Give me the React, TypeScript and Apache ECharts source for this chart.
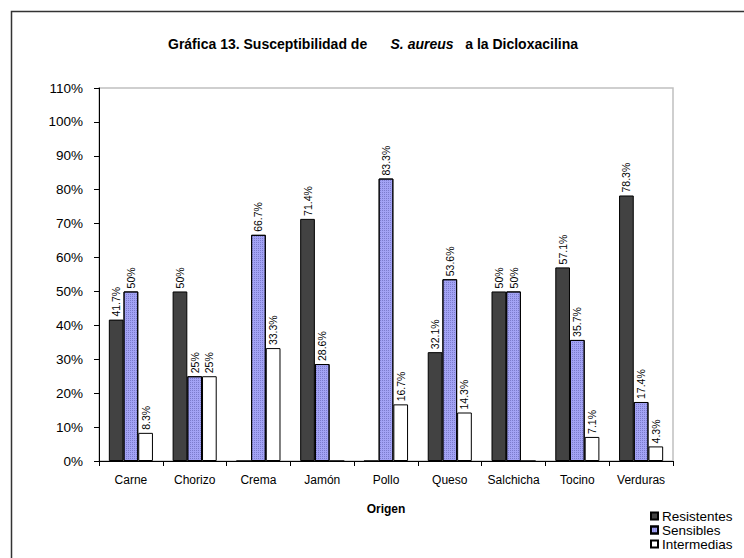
import React, { useEffect, useRef } from "react";
import * as echarts from "echarts";

const categories = ["Carne", "Chorizo", "Crema", "Jamón", "Pollo", "Queso", "Salchicha", "Tocino", "Verduras"];
const resistentes = [41.7, 50, 0, 71.4, 0, 32.1, 50, 57.1, 78.3];
const sensibles = [50, 25, 66.7, 28.6, 83.3, 53.6, 50, 35.7, 17.4];
const intermedias = [8.3, 25, 33.3, 0, 16.7, 14.3, 0, 7.1, 4.3];
const seriesNames = ["Resistentes", "Sensibles", "Intermedias"];

const FONT = "'Liberation Sans', Arial, sans-serif";

export default function App() {
  const ref = useRef<HTMLDivElement>(null);
  useEffect(() => {
    if (!ref.current) return;
    const chart = echarts.init(ref.current, null, { renderer: "svg" });
    const label = {
      show: true,
      position: "top",
      rotate: 90,
      align: "left",
      verticalAlign: "middle",
      distance: 3,
      fontSize: 10.5,
      fontFamily: FONT,
      color: "#000",
      formatter: (p: any) => (p.value === 0 ? "" : `${p.value}%`),
    };
    const ts = { fontSize: 14, fontWeight: "bold", fontFamily: FONT, color: "#000" };
    chart.setOption({
      animation: false,
      backgroundColor: "#fff",
      textStyle: { fontFamily: FONT },
      title: {
        text: "{a|Gráfica 13. Susceptibilidad de}{a|      }{b|S. aureus}{a|   }{a|a la Dicloxacilina}",
        left: 168,
        top: 37,
        padding: 0,
        textStyle: {
          ...ts,
          rich: {
            a: { ...ts },
            b: { ...ts, fontStyle: "italic" },
          },
        },
      },
      legend: {
        orient: "vertical",
        left: 650,
        top: 509,
        padding: 0,
        itemWidth: 7,
        itemHeight: 7,
        itemGap: 0,
        icon: "rect",
        textStyle: { fontSize: 13.5, lineHeight: 13, fontFamily: FONT, color: "#000", padding: [0, 0, 0, -1] },
        data: seriesNames,
      },
      grid: {
        left: 99,
        top: 88,
        width: 574,
        height: 373,
        show: true,
        borderColor: "#c0c0c0",
        borderWidth: 1.5,
        backgroundColor: "transparent",
      },
      xAxis: {
        type: "category",
        data: categories,
        name: "Origen",
        nameLocation: "middle",
        nameGap: 42,
        nameTextStyle: { fontSize: 12, fontWeight: "bold", fontFamily: FONT, color: "#000" },
        axisLine: { lineStyle: { color: "#000", width: 1 } },
        axisTick: { show: true, length: 5, lineStyle: { color: "#000" } },
        axisLabel: { fontSize: 12, margin: 13, color: "#000", fontFamily: FONT, interval: 0 },
      },
      yAxis: {
        type: "value",
        min: 0,
        max: 110,
        interval: 10,
        axisLine: { show: true, lineStyle: { color: "#000", width: 1 } },
        axisTick: { show: true, length: 5, lineStyle: { color: "#000" } },
        axisLabel: { fontSize: 13.5, margin: 16, color: "#000", fontFamily: FONT, formatter: "{value}%" },
        splitLine: { show: false },
      },
      series: [
        {
          name: seriesNames[0],
          type: "bar",
          data: resistentes,
          barWidth: 14.7,
          barGap: "0%",
          itemStyle: { color: "#424242", borderColor: "#000", borderWidth: 1 },
          label,
        },
        {
          name: seriesNames[1],
          type: "bar",
          data: sensibles,
          barWidth: 14.7,
          barGap: "0%",
          itemStyle: {
            color: "#a3a3f5",
            borderColor: "#000",
            borderWidth: 1,
            decal: {
              symbol: "rect",
              symbolSize: 1,
              dashArrayX: [1, 1],
              dashArrayY: [1, 1],
              color: "rgba(90,90,170,0.55)",
            },
          },
          label,
        },
        {
          name: seriesNames[2],
          type: "bar",
          data: intermedias,
          barWidth: 14.7,
          barGap: "0%",
          itemStyle: { color: "#fff", borderColor: "#000", borderWidth: 1 },
          label,
        },
      ],
      graphic: [
        {
          type: "rect",
          shape: { x: 11.5, y: 11.5, width: 800, height: 800 },
          style: { fill: "none", stroke: "#333", lineWidth: 1.5 },
          silent: true,
        },
      ],
    });
    return () => chart.dispose();
  }, []);
  return (
    <div
      ref={ref}
      style={{ position: "fixed", left: 0, top: 0, width: 744, height: 558 }}
    />
  );
}
